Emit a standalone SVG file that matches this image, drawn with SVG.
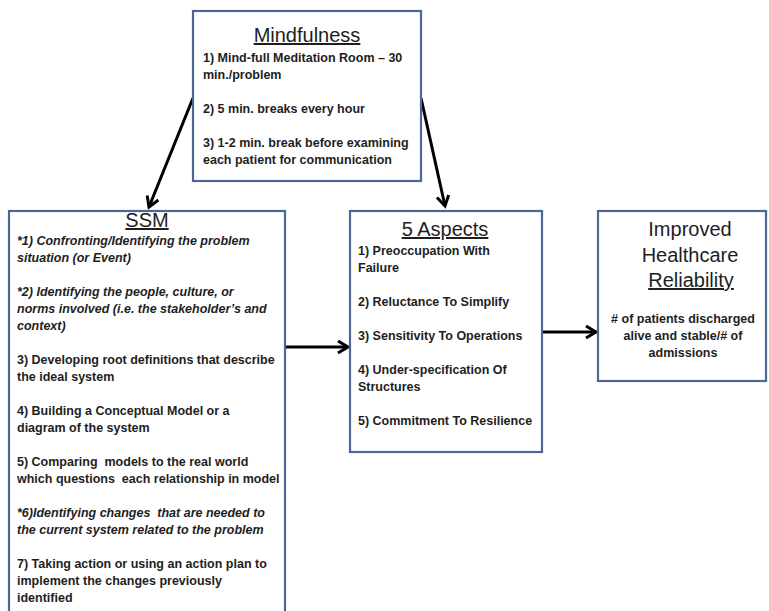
<svg xmlns="http://www.w3.org/2000/svg" width="769" height="611" viewBox="0 0 769 611">
<defs>
<style>
.box{fill:#ffffff;stroke:#4a6893;stroke-width:2.2}
.t{font-family:"Liberation Sans",Arial,sans-serif;fill:#1e1e1e}
.title{font-size:20px;text-anchor:middle}
.u{text-decoration:underline}
.b{font-size:12.5px;font-weight:bold}
.bi{font-size:12.5px;font-weight:bold;font-style:italic}
.c{text-anchor:middle}
.conn{stroke:#000000;stroke-width:3;fill:none}
</style>
<marker id="arr" markerUnits="userSpaceOnUse" markerWidth="16" markerHeight="16" refX="12" refY="7" orient="auto">
<path d="M2,1 L12,7 L2,13" fill="none" stroke="#000000" stroke-width="3"/>
</marker>
</defs>

<g id="connectors">
<line class="conn" x1="193" y1="98" x2="149" y2="207" marker-end="url(#arr)"/>
<line class="conn" x1="421" y1="98" x2="445" y2="206" marker-end="url(#arr)"/>
<line class="conn" x1="285" y1="347" x2="348" y2="347" marker-end="url(#arr)"/>
<line class="conn" x1="542" y1="332" x2="596" y2="332" marker-end="url(#arr)"/>
</g>

<g id="mindfulness">
<rect class="box" x="193" y="11" width="228" height="170"/>
<text class="t title u" x="307" y="42">Mindfulness</text>
<text class="t b" x="203" y="62">1) Mind-full Meditation Room – 30</text>
<text class="t b" x="203" y="79">min./problem</text>
<text class="t b" x="203" y="113">2) 5 min. breaks every hour</text>
<text class="t b" x="203" y="147">3) 1-2 min. break before examining</text>
<text class="t b" x="203" y="164">each patient for communication</text>
</g>

<g id="ssm">
<rect class="box" x="9" y="211" width="276" height="412"/>
<text class="t title u" x="147" y="227">SSM</text>
<text class="t bi" x="17" y="245">*1) Confronting/Identifying the problem</text>
<text class="t bi" x="17" y="262">situation (or Event)</text>
<text class="t bi" x="17" y="296">*2) Identifying the people, culture, or</text>
<text class="t bi" x="17" y="313">norms involved (i.e. the stakeholder’s and</text>
<text class="t bi" x="17" y="330">context)</text>
<text class="t b" x="17" y="364">3) Developing root definitions that describe</text>
<text class="t b" x="17" y="381">the ideal system</text>
<text class="t b" x="17" y="415">4) Building a Conceptual Model or a</text>
<text class="t b" x="17" y="432">diagram of the system</text>
<text class="t b" x="17" y="466" xml:space="preserve">5) Comparing  models to the real world</text>
<text class="t b" x="17" y="483" xml:space="preserve">which questions  each relationship in model</text>
<text class="t bi" x="17" y="517" xml:space="preserve">*6)Identifying changes  that are needed to</text>
<text class="t bi" x="17" y="534">the current system related to the problem</text>
<text class="t b" x="17" y="568">7) Taking action or using an action plan to</text>
<text class="t b" x="17" y="585">implement the changes previously</text>
<text class="t b" x="17" y="602">identified</text>
</g>

<g id="five-aspects">
<rect class="box" x="350" y="211" width="192" height="241"/>
<text class="t title u" x="445" y="236">5 Aspects</text>
<text class="t b" x="358" y="255">1) Preoccupation With</text>
<text class="t b" x="358" y="272">Failure</text>
<text class="t b" x="358" y="306">2) Reluctance To Simplify</text>
<text class="t b" x="358" y="340">3) Sensitivity To Operations</text>
<text class="t b" x="358" y="374">4) Under-specification Of</text>
<text class="t b" x="358" y="391">Structures</text>
<text class="t b" x="358" y="425">5) Commitment To Resilience</text>
</g>

<g id="improved-reliability">
<rect class="box" x="598" y="211" width="168" height="170"/>
<text class="t title" x="690" y="236">Improved</text>
<text class="t title" x="690" y="262">Healthcare</text>
<text class="t title u" x="691" y="287">Reliability</text>
<text class="t b c" x="683" y="323">#&#160;of patients discharged</text>
<text class="t b c" x="683" y="340">alive and stable/#&#160;of</text>
<text class="t b c" x="683" y="357">admissions</text>
</g>
</svg>
